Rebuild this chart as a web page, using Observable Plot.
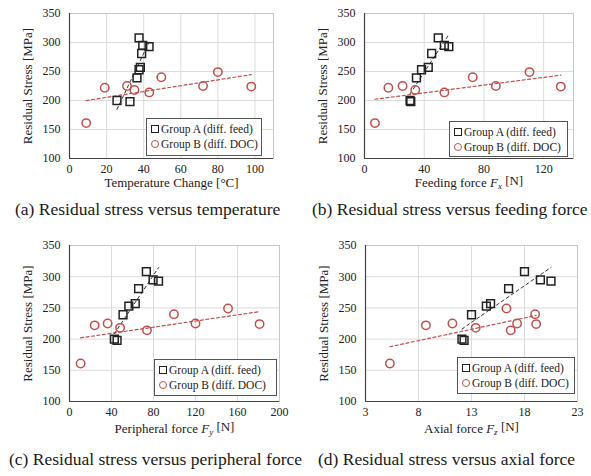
<!DOCTYPE html>
<html>
<head>
<meta charset="utf-8">
<script src="https://cdn.jsdelivr.net/npm/d3@7"></script>
<script src="https://cdn.jsdelivr.net/npm/@observablehq/plot@0.6"></script>
<style>
  html, body { margin: 0; padding: 0; background: #fff; }
  #wrap { position: relative; width: 591px; height: 476px; font-family: "Liberation Serif", "Times New Roman", Tinos, "DejaVu Serif", serif; color: #222; overflow: hidden; }
  .panel { position: absolute; }
  .cap { position: absolute; font-size: 17.5px; line-height: 20px; white-space: nowrap; color: #1a1a1a; }
  .legend { position: absolute; background: #fff; border: 1px solid #555; font-size: 11.5px; line-height: 15px; padding: 3px 4px 2px 4px; box-sizing: border-box; white-space: nowrap; color: #222; }
  .sq { display: inline-block; width: 6px; height: 6px; border: 1.4px solid #222; margin-right: 2px; }
  .ci { display: inline-block; width: 6px; height: 6px; border: 1.4px solid #c0504d; border-radius: 50%; margin-right: 2px; }
</style>
</head>
<body>
<div id="wrap"></div>
<script>
// Residual stress values (MPa) — shared by all four panels
const stressA = [200, 198, 239, 253, 257, 281, 308, 295, 293];
const stressB = [161, 222, 225, 218, 214, 240, 225, 249, 224];

// (a) temperature change [°C]
const tempA = [25.6, 32.6, 36.4, 37.5, 38.2, 38.9, 37.5, 39.5, 42.9];
const tempB = [9, 19, 31, 35, 43, 49.5, 72, 80, 98];
// (b) feeding force Fx [N]
const fxA = [30.5, 31, 34.8, 38.2, 42.7, 45, 49.4, 53.5, 56.5];
const fxB = [7, 16, 25.5, 34, 53.5, 72.5, 88, 110.5, 131.5];
// (c) peripheral force Fy [N]
const fyA = [42.7, 45.3, 51, 56.5, 62.6, 65.8, 73.2, 79.6, 84.8];
const fyB = [10.6, 24, 36.3, 48.2, 73.8, 99.5, 120, 151, 181];
// (d) axial force Fz [N]
const fzA = [12.1, 12.3, 13.0, 14.4, 14.8, 16.5, 18.0, 19.5, 20.5];
const fzB = [5.3, 8.7, 11.2, 13.4, 16.7, 19.0, 17.3, 16.3, 19.1];

// tick labels
const yTicks = [100, 150, 200, 250, 300, 350];
const xTicksA = [0, 20, 40, 60, 80, 100];
const xTicksB = [0, 40, 80, 120];
const xTicksC = [0, 40, 80, 120, 160, 200];
const xTicksD = [3, 8, 13, 18, 23];

const legendA = "Group A (diff. feed)";
const legendB = "Group B (diff. DOC)";
const yLabel = "Residual Stress [MPa]";

const captions = [
  "(a) Residual stress versus temperature",
  "(b) Residual stress versus feeding force",
  "(c) Residual stress versus peripheral force",
  "(d) Residual stress versus axial force"
];

const RED = "#c0504d";
const FONT = "'Liberation Serif', 'Times New Roman', Tinos, 'DejaVu Serif', serif";
const wrap = document.getElementById("wrap");

function pairs(xs, ys) { return xs.map((x, i) => ({x, y: ys[i]})); }

function panel(cfg) {
  const dataA = pairs(cfg.xA, stressA);
  const dataB = pairs(cfg.xB, stressB);
  const chart = Plot.plot({
    width: cfg.w, height: cfg.h,
    marginLeft: cfg.ml, marginRight: cfg.mr, marginTop: cfg.mt, marginBottom: cfg.mb,
    style: {fontFamily: FONT, fontSize: "12px", color: "#222", background: "transparent", overflow: "visible"},
    x: {domain: cfg.domain, ticks: cfg.ticks, tickSize: 0, tickPadding: 6, label: cfg.label, labelAnchor: "center", labelOffset: cfg.lo, labelArrow: "none"},
    y: {domain: [100, 350], ticks: yTicks, tickSize: 0, tickPadding: 9, label: yLabel, labelAnchor: "center", labelOffset: 47, labelArrow: "none"},
    marks: [
      Plot.gridX(cfg.ticks, {stroke: "#dcdcdc", strokeOpacity: 1}),
      Plot.gridY(yTicks, {stroke: "#dcdcdc", strokeOpacity: 1}),
      Plot.frame({stroke: "#c8c8c8"}),
      Plot.ruleX([cfg.domain[0]], {stroke: "#444", strokeWidth: 1.2}),
      Plot.ruleY([100], {stroke: "#444", strokeWidth: 1.2}),
      Plot.linearRegressionY(dataB, {x: "x", y: "y", stroke: RED, strokeWidth: 1.2, strokeDasharray: "3,2.5", ci: 0}),
      Plot.linearRegressionY(dataA, {x: "x", y: "y", stroke: "#333", strokeWidth: 1, strokeDasharray: "3,3", ci: 0}),
      Plot.dot(dataB, {x: "x", y: "y", r: 4.2, stroke: RED, strokeWidth: 1.5, fill: "none"}),
      Plot.dot(dataA, {x: "x", y: "y", symbol: "square", r: 4.4, stroke: "#222", strokeWidth: 1.5, fill: "none"})
    ]
  });
  // axis titles slightly larger than tick labels
  const labels = [...chart.querySelectorAll('g[aria-label$="axis label"] text')];
  labels.forEach(t => { t.style.fontSize = "13px"; t.setAttribute("font-size", "13"); });
  // italic force symbol with subscript in axis title
  if (cfg.sub) {
    const t = chart.querySelector('g[aria-label="x-axis label"] text');
    if (t) {
      const NS = "http://www.w3.org/2000/svg";
      t.textContent = "";
      const a = document.createElementNS(NS, "tspan"); a.textContent = cfg.pre; t.appendChild(a);
      const f = document.createElementNS(NS, "tspan"); f.textContent = "F"; f.setAttribute("font-style", "italic"); t.appendChild(f);
      const s = document.createElementNS(NS, "tspan"); s.textContent = cfg.sub; s.setAttribute("font-style", "italic"); s.setAttribute("font-size", "9px"); s.setAttribute("dy", "0.3em"); t.appendChild(s);
      const b = document.createElementNS(NS, "tspan"); b.textContent = " [N]"; b.setAttribute("dy", "-0.3em"); t.appendChild(b);
    }
  }
  const div = document.createElement("div");
  div.className = "panel";
  div.style.left = cfg.left + "px";
  div.style.top = cfg.top + "px";
  div.appendChild(chart);
  wrap.appendChild(div);

  const lg = document.createElement("div");
  lg.className = "legend";
  lg.style.left = cfg.lg[0] + "px";
  lg.style.top = cfg.lg[1] + "px";
  lg.style.width = cfg.lg[2] + "px";
  lg.style.height = cfg.lg[3] + "px";
  lg.innerHTML = `<div><span class="sq"></span>${legendA}</div><div><span class="ci"></span>${legendB}</div>`;
  wrap.appendChild(lg);
}

panel({xA: tempA, xB: tempB, domain: [0, 110], ticks: xTicksA, label: "Temperature Change [°C]",
  left: 0, top: 0, w: 295, h: 195, ml: 69, mr: 22, mt: 13, mb: 37, lo: 28, lg: [146, 118, 116, 38]});
panel({xA: fxA, xB: fxB, domain: [0, 140], ticks: xTicksB, label: "Feeding force F [N]", pre: "Feeding force ", sub: "x",
  left: 295, top: 0, w: 296, h: 195, ml: 69, mr: 18, mt: 13, mb: 37, lo: 28, lg: [449, 121, 119, 36]});
panel({xA: fyA, xB: fyB, domain: [0, 200], ticks: xTicksC, label: "Peripheral force F [N]", pre: "Peripheral force ", sub: "y",
  left: 0, top: 232, w: 295, h: 205, ml: 69, mr: 16, mt: 13, mb: 36, lo: 31, lg: [154, 359, 123, 37]});
panel({xA: fzA, xB: fzB, domain: [3, 23], ticks: xTicksD, label: "Axial force F [N]", pre: "Axial force ", sub: "z",
  left: 295, top: 232, w: 296, h: 205, ml: 70, mr: 14, mt: 13, mb: 36, lo: 31, lg: [457, 357, 118, 37]});

const capPos = [[15, 199], [312, 199], [9, 449], [318, 449]];
captions.forEach((c, i) => {
  const d = document.createElement("div");
  d.className = "cap";
  d.style.left = capPos[i][0] + "px";
  d.style.top = capPos[i][1] + "px";
  d.textContent = c;
  wrap.appendChild(d);
});
</script>
</body>
</html>
